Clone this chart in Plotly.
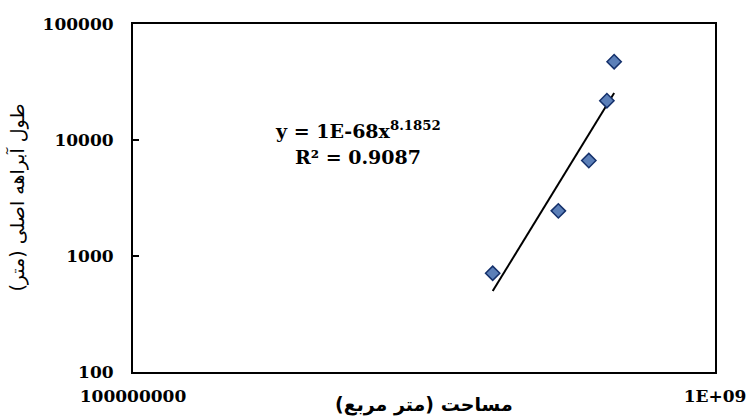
import numpy as np
import plotly.graph_objects as go

# Catchment area (m^2) and main channel length (m)
area_m2 = [4.15e8, 5.38e8, 6.07e8, 6.52e8, 6.71e8]
length_m = [710, 2450, 6650, 21800, 47300]

# Power-law trend: exponent as reported, coefficient fitted in log space
trend_exponent = 8.1852
trend_label = "y = 1E-68x<sup>8.1852</sup>"
r2_label = "R² = 0.9087"

x_tickvals = [1e8, 1e9]
x_ticktext = ["100000000", "1E+09"]
y_tickvals = [100, 1000, 10000, 100000]
y_ticktext = ["100", "1000", "10000", "100000"]

x_title = "مساحت (متر مربع)"
y_title = "طول آبراهه اصلی (متر)"

lx = np.log10(area_m2)
ly = np.log10(length_m)
log_coef = ly.mean() - trend_exponent * lx.mean()
x_line = np.array([min(area_m2), max(area_m2)])
y_line = 10 ** (log_coef + trend_exponent * np.log10(x_line))

serif = dict(family="DejaVu Serif", size=17, color="black", weight="bold")
eq_font = dict(family="DejaVu Serif", size=19, color="black", weight="bold")

fig = go.Figure()
fig.add_trace(go.Scatter(
    x=x_line, y=y_line, mode="lines",
    line=dict(color="black", width=2), showlegend=False, hoverinfo="skip"))
fig.add_trace(go.Scatter(
    x=area_m2, y=length_m, mode="markers",
    marker=dict(symbol="diamond", size=11, color="#5b7fb8",
                line=dict(color="#14306b", width=1.5)),
    showlegend=False))

fig.update_xaxes(
    type="log", range=[8, 9], tickvals=x_tickvals, ticktext=x_ticktext,
    ticks="", showgrid=False, zeroline=False, automargin=False,
    showline=True, linecolor="black", linewidth=2, mirror=True,
    tickfont=serif, ticklabelstandoff=8)
fig.update_yaxes(
    type="log", range=[2, 5], tickvals=y_tickvals, ticktext=y_ticktext,
    ticks="inside", ticklen=6, tickwidth=2, tickcolor="black",
    showgrid=False, zeroline=False, automargin=False,
    showline=True, linecolor="black", linewidth=2, mirror=True,
    tickfont=serif, ticklabelstandoff=14)

fig.add_annotation(x=0.3866, y=0.695, xref="paper", yref="paper",
                   text=trend_label, showarrow=False, font=eq_font,
                   xanchor="center", yanchor="middle")
fig.add_annotation(x=0.3866, y=0.618, xref="paper", yref="paper",
                   text=r2_label, showarrow=False, font=eq_font,
                   xanchor="center", yanchor="middle")
fig.add_annotation(x=0.5, y=-0.093, xref="paper", yref="paper",
                   text=x_title, showarrow=False,
                   font=dict(family="DejaVu Sans", size=19, color="black", weight="bold"),
                   xanchor="center", yanchor="middle")
fig.add_annotation(x=-0.2, y=0.5, xref="paper", yref="paper",
                   text=y_title, showarrow=False, textangle=-90,
                   font=dict(family="DejaVu Sans", size=19, color="black"),
                   xanchor="center", yanchor="middle")

fig.update_layout(
    width=747, height=417,
    margin=dict(l=133, r=32, t=24, b=45),
    paper_bgcolor="white", plot_bgcolor="white")

fig.write_html("out.html")
